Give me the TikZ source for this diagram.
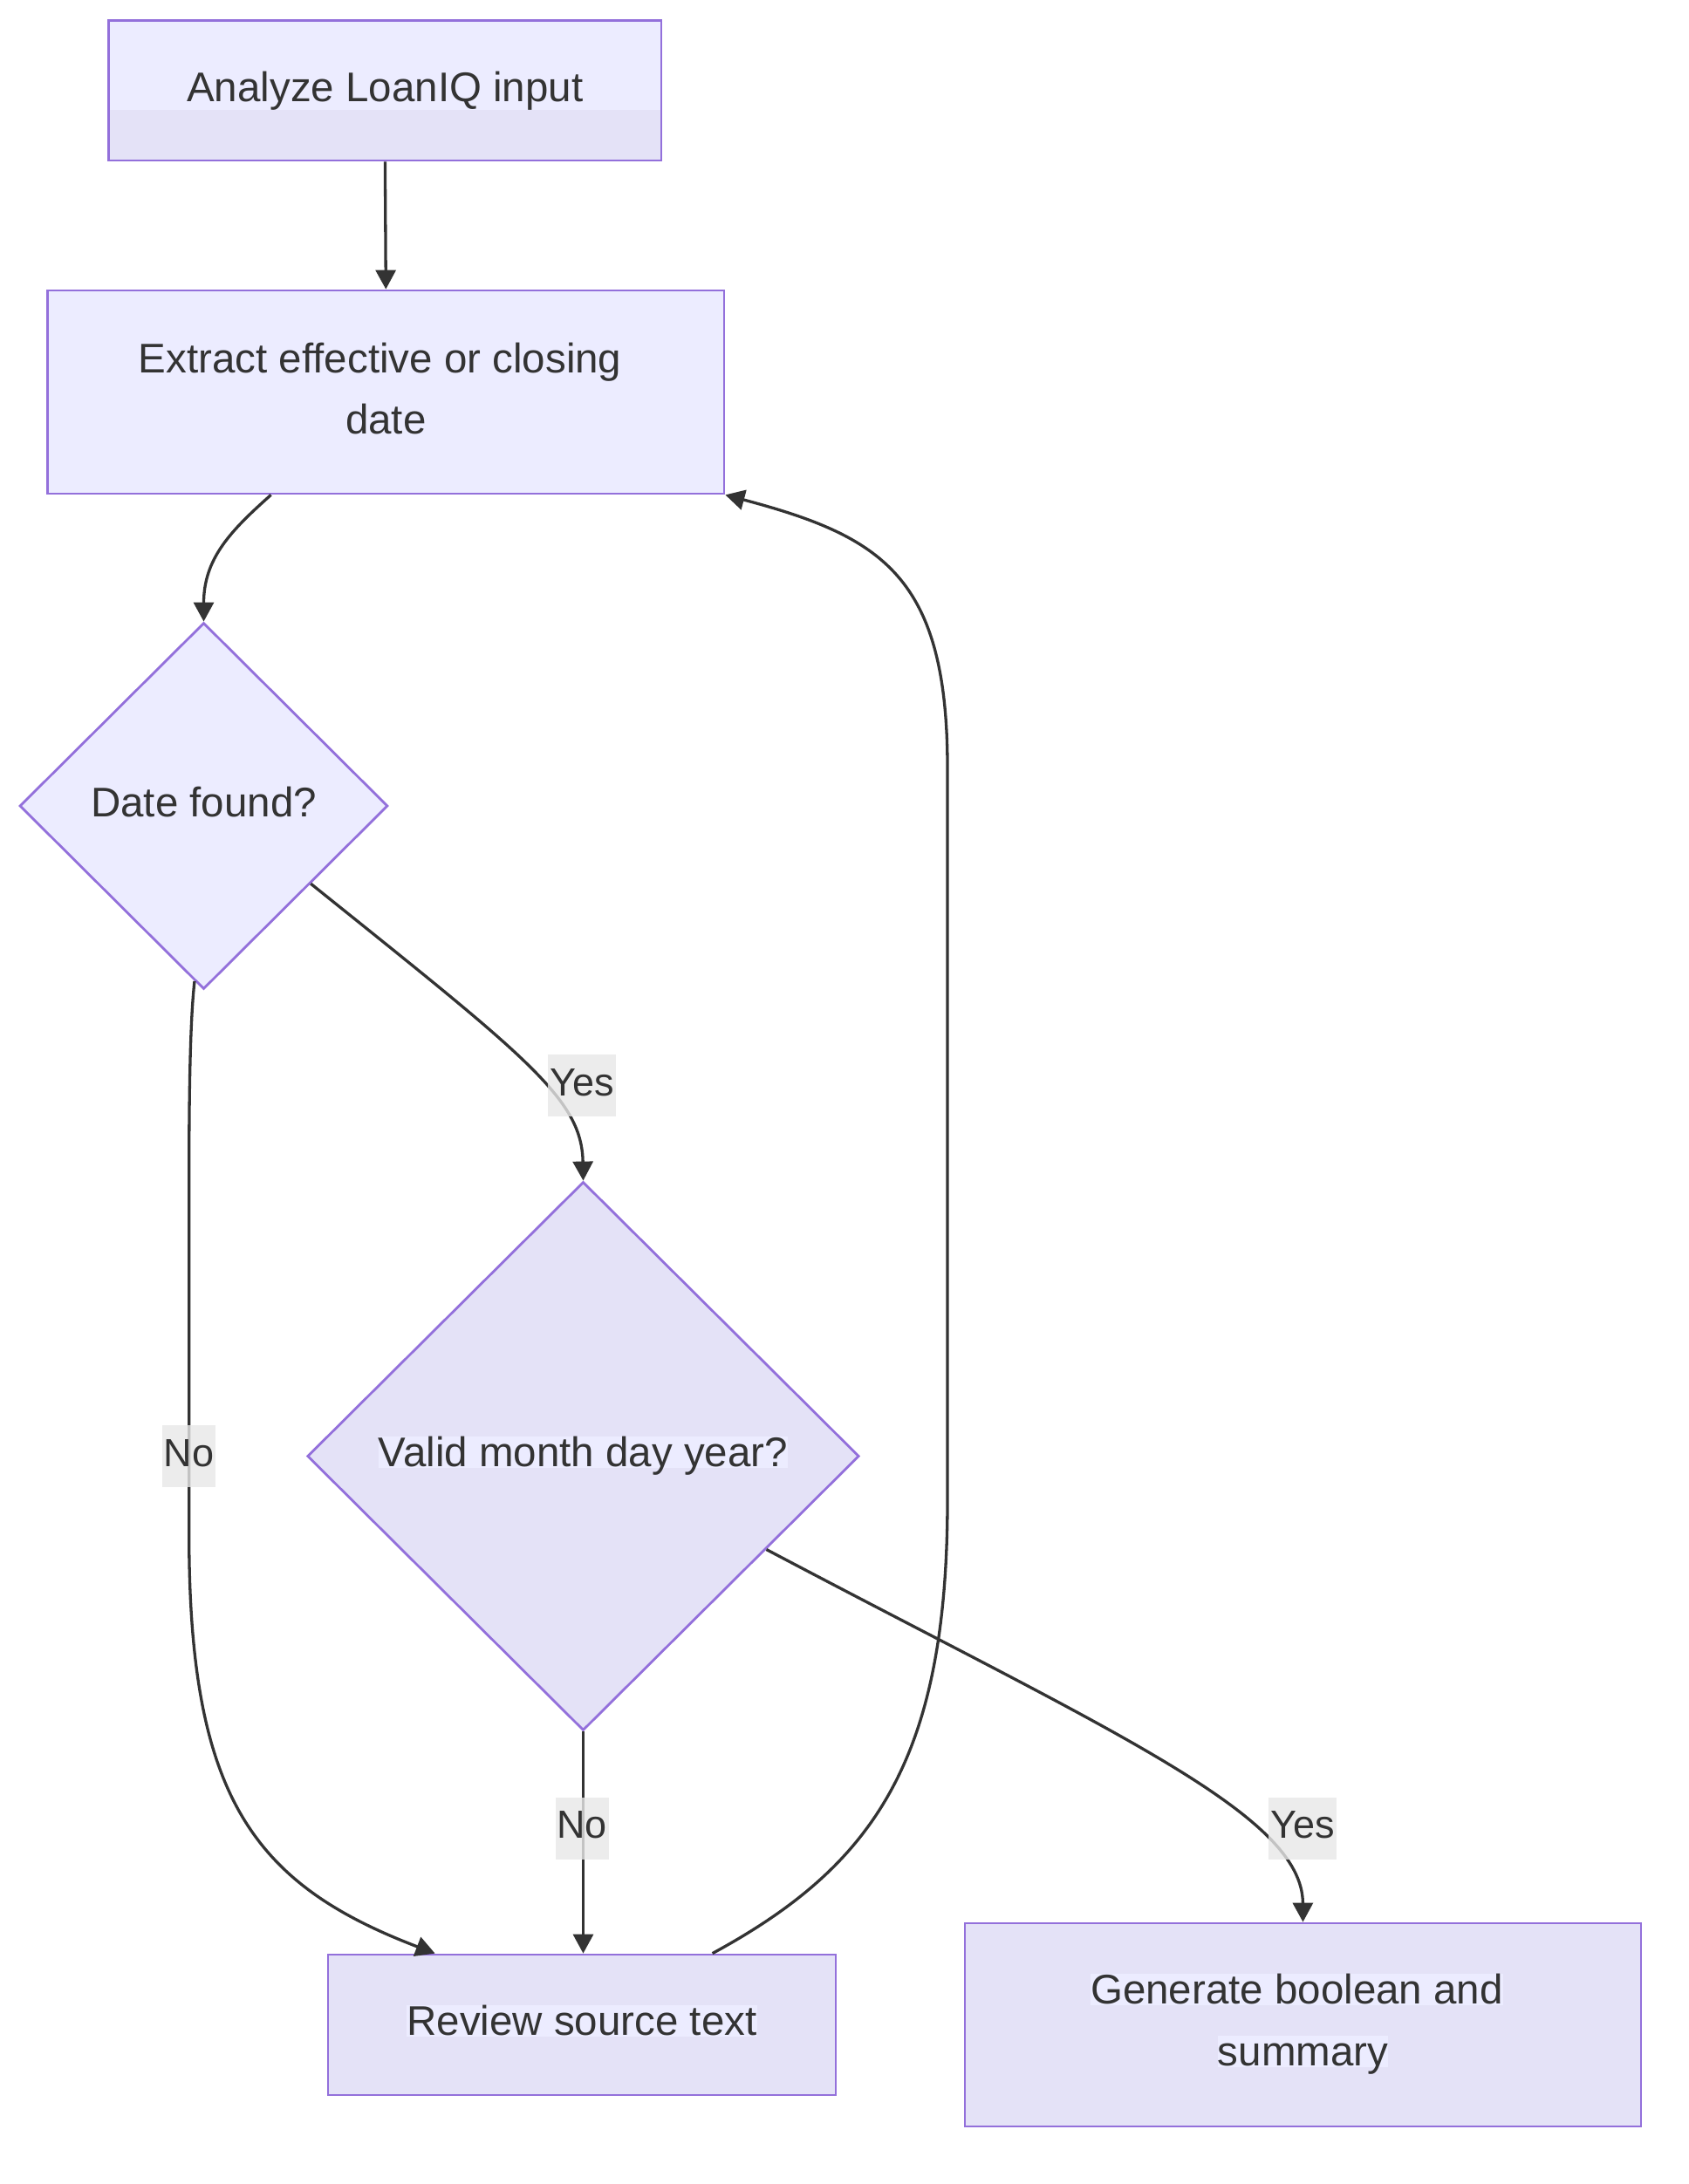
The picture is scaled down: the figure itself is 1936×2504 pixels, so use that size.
\documentclass[tikz,border=0pt]{standalone}
\usepackage{fontspec}
\setmainfont{Liberation Sans}
\usetikzlibrary{arrows.meta,shapes.geometric,calc}
\definecolor{lightfill}{HTML}{ECECFF}
\definecolor{darkfill}{HTML}{E4E2F7}
\definecolor{nodestroke}{HTML}{9370DB}
\definecolor{edgecol}{HTML}{333333}
\definecolor{txtcol}{HTML}{333333}
\definecolor{lblbg}{HTML}{E8E8E8}
\newcommand\nodefont{\fontsize{47.5}{57}\selectfont}
\newcommand\lblfont{\fontsize{45}{54}\selectfont}
\begin{document}
\begin{tikzpicture}[x=1pt,y=-1pt,
  box/.style={rectangle, draw=nodestroke, line width=2.8pt, inner sep=0pt},
  dia/.style={diamond, draw=nodestroke, line width=2.8pt, inner sep=0pt, aspect=1},
  txt/.style={anchor=base, inner sep=0pt, font=\nodefont, text=txtcol},
  strip/.style={txt, fill=lightfill, text height=34pt, text depth=2pt},
  edge/.style={draw=edgecol, line width=3.3pt, -{Triangle[length=22pt,width=23pt]}},
  lbl/.style={fill=lblbg, fill opacity=0.8, text opacity=1, inner sep=0pt, minimum height=71pt, text height=33pt, text depth=10pt, font=\lblfont, text=txtcol}
]
\useasboundingbox (0,0) rectangle (1936,2504);
\fill[white] (0,0) rectangle (1936,2504);

% nodes
\node[box, fill=darkfill, minimum width=633.3pt, minimum height=160.7pt] (analyze) at (441.4,103.7) {};
\fill[lightfill] (126.1,24.7) rectangle (756.6,126);
\node[box, fill=lightfill, minimum width=775.4pt, minimum height=233pt] (extract) at (442.3,449.5) {};
\node[dia, fill=lightfill, minimum width=422pt, minimum height=420pt] (date) at (233.5,924) {};
\node[dia, fill=darkfill, minimum width=632.5pt, minimum height=629pt] (valid) at (668.5,1669.5) {};
\node[box, fill=darkfill, minimum width=582pt, minimum height=161pt] (review) at (667,2321.5) {};
\node[box, fill=darkfill, minimum width=775pt, minimum height=233pt] (generate) at (1493.5,2321.5) {};

% node texts
\node[txt] (analyze-t) at (441.4,116.7) {Analyze LoanIQ input};
\node[txt] (extract-t1) at (435.7,427) {Extract effective or closing};
\node[txt] (extract-t2) at (442.3,497) {date};
\node[txt] (date-t) at (233.5,936) {Date found?};
\node[strip] (valid-t) at (668.5,1681) {Valid month day year?};
\node[strip] (review-t) at (667,2333) {Review source text};
\node[strip] (generate-t1) at (1486.5,2297) {Generate boolean and};
\node[strip] (generate-t2) at (1493.5,2368) {summary};

% connectors
\draw[edge] (analyze.south) -- (extract.north);
\draw[edge] ([xshift=257.4pt]extract.south west) .. controls (265,608) and (233.5,640) .. (date.north);
\draw[edge] (date.-36) .. controls (605,1213) and (667,1260) .. (valid.north);
\draw[edge] (date.-93) .. controls (218,1170) and (216.7,1250) .. (216.7,1350) -- (216.7,1760) .. controls (216.7,2060) and (290,2160) .. ([xshift=124pt]review.north west);
\draw[edge] (valid.south) -- (valid.south |- review.north);
\draw[edge] (valid.-27.7) .. controls (1277,1987) and (1493,2080) .. (generate.north);
\draw[edge] ([xshift=442pt]review.north west) .. controls (1000,2140) and (1086,2020) .. (1086,1720) -- (1086,880) .. controls (1086,660) and (1010,615) .. (extract.south east);

% edge labels
\node[lbl, minimum width=78pt] (yes1) at (667,1244.5) {Yes};
\node[lbl, minimum width=61pt] (no1) at (216.5,1669.5) {No};
\node[lbl, minimum width=61pt] (no2) at (667,2096) {No};
\node[lbl, minimum width=78pt] (yes2) at (1493,2096) {Yes};
\end{tikzpicture}
\end{document}
